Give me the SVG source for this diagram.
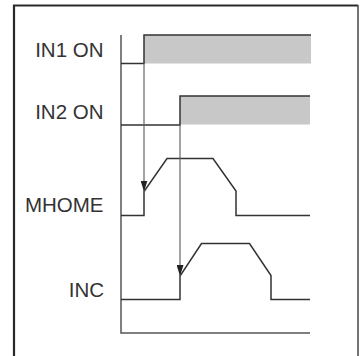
<svg xmlns="http://www.w3.org/2000/svg" width="360" height="356" viewBox="0 0 360 356">
<style>
.lbl{font-family:"Liberation Sans",Arial,sans-serif;font-size:20.5px;fill:#333;text-anchor:end}
.sig{fill:none;stroke:#333;stroke-width:1.5}
.axis{fill:none;stroke:#555;stroke-width:1.5}
.bar{fill:#c8c8c8;stroke:none}
.arr{fill:none;stroke:#666;stroke-width:1.2;marker-end:url(#ah)}
</style>
<defs>
<marker id="ah" markerWidth="11" markerHeight="7" refX="11" refY="3.5" orient="auto" markerUnits="userSpaceOnUse" viewBox="0 0 11 7">
<path d="M0,0 L11,3.5 L0,7 Z" fill="#222"/>
</marker>
</defs>
<rect width="360" height="356" fill="#fff"/>
<path d="M14,356 V5.5 H358" fill="none" stroke="#2a2a2a" stroke-width="2.2"/>
<path d="M358,5 V356" fill="none" stroke="#444" stroke-width="1.5"/>
<g id="axis">
<path class="axis" d="M121,35 V333 H310"/>
</g>
<g id="in1">
<text class="lbl" x="103.5" y="57">IN1 ON</text>
<rect class="bar" x="144" y="35" width="167" height="28.5"/>
<path class="sig" d="M121,63.5 H144 V35 H311"/>
</g>
<g id="in2">
<text class="lbl" x="103.5" y="119">IN2 ON</text>
<rect class="bar" x="180" y="96" width="130" height="28.5"/>
<path class="sig" d="M121,125 H180 V96 H310"/>
</g>
<g id="mhome">
<text class="lbl" x="103.5" y="212">MHOME</text>
<path class="sig" d="M121,215.5 H144 V191.5 L167,158.5 H213 L236,191 V215.5 H310"/>
</g>
<g id="inc">
<text class="lbl" x="104" y="297">INC</text>
<path class="sig" d="M121,299.5 H180 V276 L201.5,243.5 H249.5 L271,275.5 V299.5 H310"/>
</g>
<g id="connectors">
<path class="arr" d="M144,63.5 V191.5"/>
<path class="arr" d="M180,125 V276"/>
</g>
</svg>
